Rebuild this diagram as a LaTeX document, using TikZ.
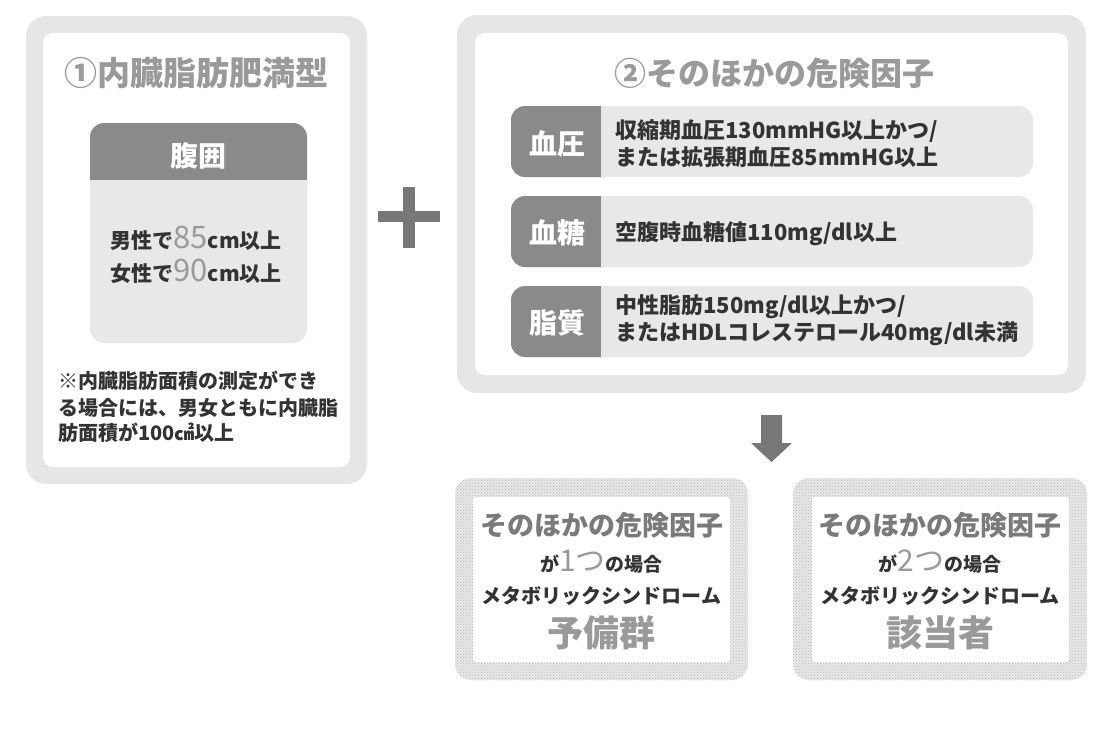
\documentclass[tikz,border=0pt]{standalone}
\usepackage{fontspec}
\usetikzlibrary{patterns}
\newfontfamily\jp{Noto Sans CJK JP}
\definecolor{frame}{HTML}{E6E6E6}
\definecolor{rowlight}{HTML}{E8E8E8}
\definecolor{darkbox}{HTML}{8A8A8A}
\definecolor{titlegray}{HTML}{9A9A9A}
\definecolor{textdark}{HTML}{333333}
\definecolor{symgray}{HTML}{777777}
\newcommand{\fs}[1]{\fontsize{#1}{#1}\selectfont}
\tikzset{
  txt/.style={inner sep=0pt, font=\jp\bfseries, text=textdark},
  ttl/.style={inner sep=0pt, font=\jp\bfseries, text=titlegray},
  lbl/.style={inner sep=0pt, font=\jp\bfseries, text=white},
  hatchframe/.style={pattern=crosshatch dots, pattern color=black!28},
}
\begin{document}
\begin{tikzpicture}[x=1pt,y=-1pt]
\useasboundingbox (0,0) rectangle (1117,740);
\fill[white] (0,0) rectangle (1117,740);

% ---------- left frame ----------
\fill[frame, rounded corners=20] (26,16) rectangle (367,484);
\fill[white, rounded corners=10] (43,33) rectangle (350,467);
\node[ttl, anchor=base] (t1) at (196,85) {\fs{33}①内臓脂肪肥満型};

% waist box
\fill[rowlight, rounded corners=14] (90,123) rectangle (307,343);
\fill[darkbox, rounded corners=14] (90,123) rectangle (307,200);
\fill[rowlight] (90,180) rectangle (307,205);
\node[lbl, anchor=base] (waist) at (198,166) {\fs{28}腹囲};
\node[txt, anchor=base] (m) at (196,248) {\fs{21}男性で{\fs{31}\mdseries\color{titlegray}85}cm以上};
\node[txt, anchor=base] (f) at (196,281) {\fs{21}女性で{\fs{31}\mdseries\color{titlegray}90}cm以上};

\node[txt, anchor=base west] (n1) at (58,388) {\fs{20}※内臓脂肪面積の測定ができ};
\node[txt, anchor=base west] (n2) at (58,415) {\fs{20}る場合には、男女ともに内臓脂};
\node[txt, anchor=base west] (n3) at (58,440) {\fs{20}肪面積が100㎠以上};

% ---------- plus ----------
\fill[symgray] (403,187) rectangle (415,248);
\fill[symgray] (378,211) rectangle (440,222);

% ---------- right frame ----------
\fill[frame, rounded corners=20] (457,15) rectangle (1086,393);
\fill[white, rounded corners=10] (475,33) rectangle (1068,375);
\node[ttl, anchor=base] (t2) at (774,85) {\fs{32}②そのほかの危険因子};

\foreach \y/\nm in {106/r1,196/r2,286/r3}{
  \fill[rowlight, rounded corners=14] (511,\y) rectangle (1033,\y+71);
  \fill[darkbox, rounded corners=14] (511,\y) rectangle (620,\y+71);
  \fill[rowlight] (601,\y) rectangle (630,\y+71);
}
\node[lbl, anchor=base] (l1) at (557,154) {\fs{28}血圧};
\node[lbl, anchor=base] (l2) at (557,243) {\fs{28}血糖};
\node[lbl, anchor=base] (l3) at (557,333) {\fs{28}脂質};

\node[txt, anchor=base west] (a1) at (615,138) {\fs{22}収縮期血圧130mmHG以上かつ/};
\node[txt, anchor=base west] (a2) at (615,165) {\fs{22}または拡張期血圧85mmHG以上};
\node[txt, anchor=base west] (b1) at (615,240) {\fs{22}空腹時血糖値110mg/dl以上};
\node[txt, anchor=base west] (c1) at (615,313) {\fs{22}中性脂肪150mg/dl以上かつ/};
\node[txt, anchor=base west] (c2) at (615,340) {\fs{22}またはHDLコレステロール40mg/dl未満};

% ---------- arrow ----------
\fill[symgray] (761,415) -- (782,415) -- (782,443) -- (792,443) -- (771.5,462) -- (751,443) -- (761,443) -- cycle;

% ---------- result boxes ----------
\fill[black!9, rounded corners=16] (455,478) rectangle (748,680);
\fill[hatchframe, rounded corners=16] (455,478) rectangle (748,680);
\fill[white, rounded corners=3] (473,497) rectangle (730,662);
\fill[black!9, rounded corners=16] (793,478) rectangle (1087,680);
\fill[hatchframe, rounded corners=16] (793,478) rectangle (1087,680);
\fill[white, rounded corners=3] (812,497) rectangle (1069,662);

\node[ttl, anchor=base, text=black!52] (p1) at (601.5,535) {\fs{27}そのほかの危険因子};
\node[txt, anchor=base] (p2) at (601.5,571) {\fs{19}が{\fs{30}\mdseries\color{titlegray}1つ}の場合};
\node[txt, anchor=base] (p3) at (601.5,603) {\fs{20}メタボリックシンドローム};
\node[ttl, anchor=base] (p4) at (601.5,646) {\fs{36}予備群};

\node[ttl, anchor=base, text=black!52] (q1) at (940,535) {\fs{27}そのほかの危険因子};
\node[txt, anchor=base] (q2) at (940,571) {\fs{19}が{\fs{30}\mdseries\color{titlegray}2つ}の場合};
\node[txt, anchor=base] (q3) at (940,603) {\fs{20}メタボリックシンドローム};
\node[ttl, anchor=base] (q4) at (940,646) {\fs{36}該当者};
\end{tikzpicture}
\end{document}
